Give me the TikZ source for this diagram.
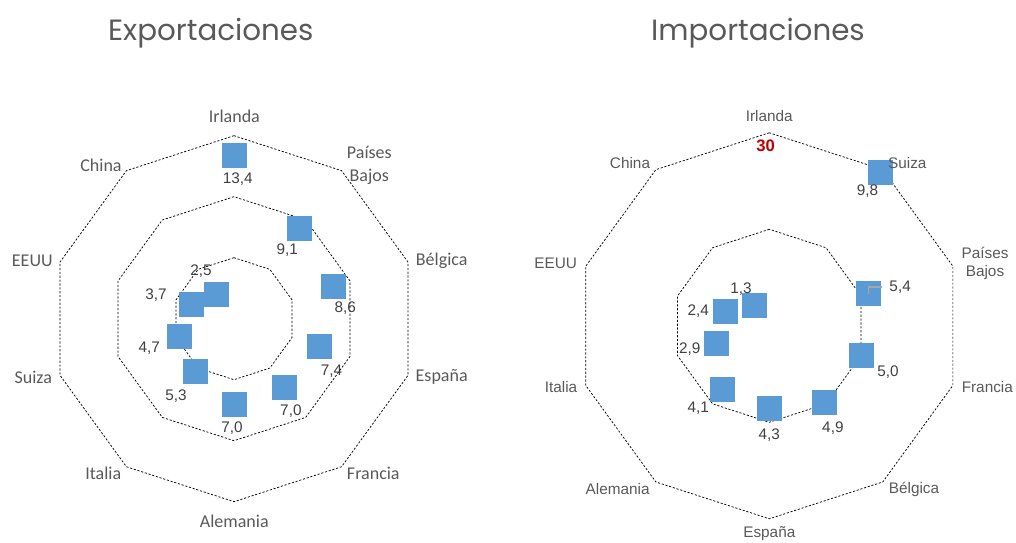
\documentclass[tikz,border=0pt]{standalone}
\usepackage{fontspec}
\setmainfont{Liberation Sans}
\newfontfamily\calfont{Carlito}
\newfontfamily\gothfont{Poppins}
\usepackage{xcolor}
\usetikzlibrary{positioning}
\definecolor{labgray}{HTML}{595959}
\definecolor{valgray}{HTML}{404040}
\definecolor{sqblue}{HTML}{5B9BD5}
\definecolor{maxred}{HTML}{C00000}
\tikzset{
  ring/.style={draw=black, line width=0.55pt, dash pattern=on 1.6pt off 1.3pt},
  sq/.style={fill=sqblue, minimum size=18.75pt, inner sep=0pt},
  val/.style={text=valgray, font=\fontsize{11.5}{13}\selectfont, inner sep=0pt},
  ecat/.style={text=labgray, font=\calfont\fontsize{13.5}{16.8}\selectfont, align=center, inner sep=0pt},
  icat/.style={text=labgray, font=\fontsize{11.5}{13.8}\selectfont, align=center, inner sep=0pt},
  ctitle/.style={text=labgray, font=\gothfont\fontsize{22}{26}\selectfont, anchor=base, inner sep=0pt},
  leader/.style={draw=black!35, line width=1.1pt}
}

\begin{document}
\begin{tikzpicture}[x=0.75pt, y=0.75pt]
  \useasboundingbox (0,0) rectangle (1016,542);
  \coordinate (EC) at (234,223.3);
  \coordinate (IC) at (769.3,216.2);
  \node[ctitle] (etitle) at (210.8,501.3) {Exportaciones};
  \node[ctitle] (ititle) at (758,501.3) {Importaciones};

  \foreach \r in {61,122,183}
    \draw[ring, shift={(EC)}] (90:\r) \foreach \a in {126,162,...,414} {-- (\a:\r)} -- cycle;
  \foreach \r in {96.5,193}
    \draw[ring, shift={(IC)}] (90:\r) \foreach \a in {126,162,...,414} {-- (\a:\r)} -- cycle;

  \foreach \n/\a/\v/\dx/\dy/\t in {1/90/13.4/3.7/-23.6/{13,4}, 2/54/9.1/-12/-21.7/{9,1},
      3/18/8.6/11.4/-21.6/{8,6}, 4/-18/7.4/11.7/-24.4/{7,4}, 5/-54/7.0/6.7/-23.4/{7,0},
      6/-90/7.0/-2/-24/{7,0}, 7/-126/5.3/-20/-24.7/{5,3}, 8/-162/4.7/-30.3/-12/{4,7},
      9/162/3.7/-35/10/{3,7}, 10/126/2.5/-15/23.3/{2,5}}
  {
    \pgfmathsetmacro\rr{12.2*\v}
    \node[sq] (e\n) at ([shift={(\a:\rr)}]EC) {};
    \node[val] (ev\n) at ([shift={(\dx,\dy)}]e\n.center) {\t};
  }

  \foreach \n/\a/\v/\dx/\dy/\t in {2/54/9.8/-13/-18.7/{9,8}, 3/18/5.4/31.7/6.6/{5,4},
      4/-18/5.0/27/-17/{5,0}, 5/-54/4.9/8/-25.4/{4,9}, 6/-90/4.3/0/-26.4/{4,3},
      7/-126/4.1/-24.6/-18.7/{4,1}, 8/-162/2.9/-26.3/-6/{2,9}, 9/162/2.4/-27/0/{2,4},
      10/126/1.3/-13.6/16.3/{1,3}}
  {
    \pgfmathsetmacro\rr{19.3*\v}
    \node[sq] (i\n) at ([shift={(\a:\rr)}]IC) {};
    \node[val] (iv\n) at ([shift={(\dx,\dy)}]i\n.center) {\t};
  }
  \draw[leader] (i3.center) |- ([xshift=-5.5pt]iv3.west);
  \node[text=maxred, font=\bfseries\fontsize{12.5}{14}\selectfont, inner sep=0pt] (imax) at (765.7,396.7) {30};

  \node[ecat] (eIRL) at (234.3,426) {Irlanda};
  \node[ecat] (ePB) at (369.3,376.5) {Países\\Bajos};
  \node[ecat] (eBEL) at (441.7,281.3) {Bélgica};
  \node[ecat] (eESP) at (441.7,164.7) {España};
  \node[ecat] (eFRA) at (373.3,68.7) {Francia};
  \node[ecat] (eALE) at (234.3,20.3) {Alemania};
  \node[ecat] (eITA) at (103.3,68.7) {Italia};
  \node[ecat] (eSUI) at (33.3,164.7) {Suiza};
  \node[ecat] (eUSA) at (32.3,281.3) {EEUU};
  \node[ecat] (eCHN) at (101,376.3) {China};

  \node[icat] (iIRL) at (769.3,426.3) {Irlanda};
  \node[icat] (iSUI) at (907.3,378.7) {Suiza};
  \node[icat] (iPB) at (985,278.5) {Países\\Bajos};
  \node[icat] (iFRA) at (987.3,154.7) {Francia};
  \node[icat] (iBEL) at (914,53) {Bélgica};
  \node[icat] (iESP) at (769.3,8.5) {España};
  \node[icat] (iALE) at (617.7,53) {Alemania};
  \node[icat] (iITA) at (561,154.7) {Italia};
  \node[icat] (iUSA) at (555.7,278.7) {EEUU};
  \node[icat] (iCHN) at (630,378.7) {China};
\end{tikzpicture}
\end{document}
